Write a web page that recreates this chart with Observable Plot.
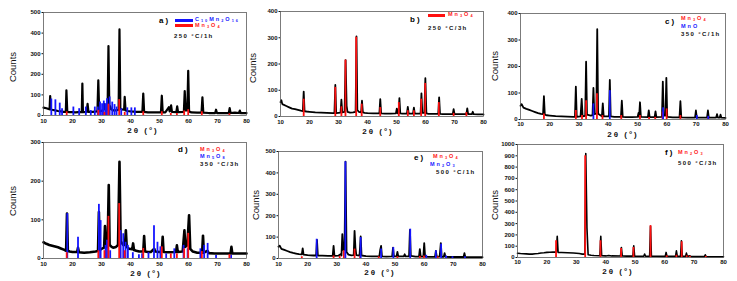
<!DOCTYPE html>
<html><head><meta charset="utf-8">
<script src="https://cdn.jsdelivr.net/npm/d3@7"></script>
<script src="https://cdn.jsdelivr.net/npm/@observablehq/plot@0.6"></script>
<style>
body{margin:0;background:#fff;}
#fig{position:relative;width:737px;height:281px;overflow:hidden;font-family:"Liberation Sans",Arial,sans-serif;background:#fff;}
#fig svg{position:absolute;}
.xrd text{font-weight:bold;}
.t{position:absolute;white-space:nowrap;font-weight:bold;line-height:1;}
.t sub{font-size:70%;vertical-align:-1px;line-height:0;}
.tag{font-size:8px;letter-spacing:2px;color:#000;}
.f{font-size:5.5px;letter-spacing:2px;}
.cond{font-size:6px;letter-spacing:1.4px;color:#111;}
.red{color:#ff1a1a;}
.blue{color:#1a1aff;}
.sw{position:absolute;height:3px;}
.yl{position:absolute;font-size:9.5px;transform:translate(-50%,-50%) rotate(-90deg);white-space:nowrap;color:#111;}
.xl{position:absolute;font-size:8px;font-weight:bold;letter-spacing:2px;transform:translate(-50%,-50%);white-space:nowrap;color:#111;}
</style></head>
<body><div id="fig"></div>
<script>
// ---- tick values ----
const xTicks = [10, 20, 30, 40, 50, 60, 70, 80];
const yTicksA = [0, 100, 200, 300, 400, 500];
const yTicksB = [0, 100, 200, 300, 400];
const yTicksC = [0, 100, 200, 300, 400];
const yTicksD = [0, 100, 200, 300];
const yTicksE = [0, 100, 200, 300, 400, 500];
const yTicksF = [0, 100, 200, 300, 400, 500, 600, 700, 800, 900, 1000];

// ---- measured patterns [2θ, counts] ----
const patternA = [[10,38],[11,35],[12,30],[12.1,30],[12.3,94],[12.5,30],[13,28],[14,25],[15,22],[16,20],[17,18],[17.7,18],[17.9,122],[18.2,18],[19,16],[20,16],[21,15],[22,16],[23.2,16],[23.4,155],[23.6,16],[24.9,18],[25.2,57],[25.5,18],[27,18],[28.6,20],[28.9,171],[29.2,20],[30,22],[30.8,30],[31.0,55],[31.3,30],[32.1,30],[32.4,337],[32.7,35],[33,45],[33.3,30],[34,25],[35,25],[35.9,28],[36.2,418],[36.5,35],[37,30],[37.8,28],[38.0,90],[38.3,25],[39,22],[40,20],[42,18],[44.1,18],[44.4,106],[44.7,18],[46,15],[48,15],[50.5,15],[50.8,96],[51.1,15],[52,15],[53.2,40],[53.5,20],[54,49],[54.3,18],[55.8,16],[56.1,44],[56.4,16],[58.4,18],[58.7,119],[59.0,25],[59.6,25],[59.9,217],[60.2,20],[61,15],[63,14],[64.5,14],[64.8,88],[65.1,14],[67,12],[69.2,12],[69.5,28],[69.8,12],[72,12],[73.9,12],[74.2,36],[74.5,12],[76,14],[77.4,12],[77.7,24],[78,12],[80,12]];
const refA_C10Mn2O16 = [[12.7,80],[14.1,76],[15.6,60],[16.4,33],[20.3,41],[22.3,33],[24.6,41],[26.3,24],[27.7,41],[28.7,41],[29.5,65],[30.2,57],[30.8,70],[31.5,57],[31.9,81],[32.8,90],[33.7,65],[34.5,53],[35.2,41],[36.8,33],[38.9,37],[40.3,37],[41.5,37]];
const refA_Mn3O4 = [[18.0,18],[28.9,25],[31.0,15],[32.4,55],[36.1,77],[38.0,15],[44.4,18],[50.8,18],[53.9,10],[56.0,10],[58.5,22],[59.9,28],[64.6,18],[74.1,8]];

const patternB = [[10,55],[10.3,62],[10.6,48],[11,45],[12,40],[13,35],[14,30],[15,28],[16,25],[17,22],[17.7,21],[18.0,95],[18.3,20],[19,19],[20,18],[22,16],[24,15],[26,14],[28,13],[28.6,13],[28.9,120],[29.2,13],[30,14],[30.7,15],[31.0,64],[31.3,16],[32.1,18],[32.45,215],[32.8,40],[33.1,18],[34,15],[35,16],[35.9,18],[36.2,305],[36.5,25],[37,18],[37.8,16],[38.1,60],[38.4,16],[39,14],[40,13],[42,12],[44.1,12],[44.4,66],[44.7,12],[46,11],[48,11],[49.8,12],[50.1,30],[50.4,12],[50.7,12],[51.0,70],[51.3,12],[52,11],[53.6,11],[53.9,37],[54.2,11],[55.7,11],[56.0,34],[56.3,11],[58.3,11],[58.6,88],[58.9,14],[59.6,14],[59.95,146],[60.3,12],[61,10],[63,10],[64.4,10],[64.7,73],[65.0,10],[66,9],[68,9],[69.4,9],[69.7,28],[70.0,9],[72,9],[74.1,9],[74.4,31],[74.7,9],[76,9],[76.3,18],[76.6,9],[78,8],[80,8]];
const refB_Mn3O4 = [[18.0,66],[28.9,111],[31.0,37],[32.4,215],[36.1,302],[38.0,47],[44.4,34],[50.8,53],[53.9,22],[56.0,22],[58.5,66],[59.9,126],[64.6,53],[69.7,12],[74.1,15]];

const patternC = [[10,52],[10.4,58],[11,45],[12,40],[13,36],[14,32],[15,28],[16,24],[17,21],[17.7,20],[18.0,88],[18.3,18],[19,16],[20,15],[22,13],[24,12],[26,11],[28,10],[28.6,10],[28.9,124],[29.2,10],[30.5,12],[30.9,78],[31.2,12],[32.1,14],[32.4,218],[32.7,18],[34,15],[34.6,16],[34.9,119],[35.2,20],[35.9,22],[36.2,341],[36.5,22],[37.8,12],[38.1,61],[38.4,12],[40.2,12],[40.5,149],[40.8,12],[42,10],[44.3,10],[44.6,71],[44.9,10],[46,9],[48,9],[50.0,10],[50.3,25],[50.5,10],[50.8,65],[51.1,10],[53.5,9],[53.8,34],[54.1,9],[55.8,9],[56.1,31],[56.4,9],[58.3,10],[58.6,143],[58.9,15],[59.5,15],[59.8,157],[60.1,10],[62,8],[64.3,8],[64.6,69],[64.9,8],[67,7],[69.6,7],[69.9,34],[70.2,7],[72,7],[73.7,7],[74.0,34],[74.3,7],[76.8,7],[77.1,20],[77.4,7],[78,7],[78.3,18],[78.6,7],[80,6]];
const refC_Mn3O4 = [[18.0,21],[28.9,34],[31.0,15],[32.4,71],[36.1,97],[38.0,15],[44.4,15],[50.8,15],[53.9,8],[56.0,8],[58.5,28],[59.9,40],[64.6,15],[74.1,8]];
const refC_MnO = [[34.9,59],[40.5,109],[58.7,44],[70.2,15],[74.1,12]];

const patternD = [[10,42],[10.5,40],[11,38],[12,35],[13,33],[14,31],[15,29],[16,26],[17,23],[17.8,20],[18.1,116],[18.4,20],[19,18],[20,17],[21.6,17],[21.9,28],[22.2,16],[24,15],[26,16],[28,18],[28.8,20],[29.1,120],[29.4,22],[30,25],[30.9,28],[31.2,84],[31.5,30],[32.1,30],[32.5,190],[32.8,35],[33.5,30],[34,28],[35,30],[35.7,35],[36.2,250],[36.6,45],[37.0,40],[37.5,35],[38.1,35],[38.4,73],[38.7,30],[39.5,25],[40.6,24],[40.9,39],[41.2,22],[42,20],[43,18],[44.4,18],[44.7,58],[45.0,18],[46,17],[47,17],[48.2,25],[48.5,18],[50,17],[50.8,18],[51.1,56],[51.4,17],[53,16],[55.7,17],[56.0,34],[56.3,17],[58.0,18],[58.6,73],[58.9,30],[59.6,35],[60.2,112],[60.6,25],[61.5,18],[63,15],[64.7,15],[65.0,59],[65.3,15],[66.5,20],[67,14],[69,13],[70,13],[72,13],[74.5,13],[74.8,30],[75.1,13],[77,13],[80,13]];
const refD_Mn3O4 = [[18.0,15],[28.9,20],[31.0,20],[32.4,109],[36.1,142],[38.0,20],[44.4,26],[50.8,30],[53.9,12],[56.0,12],[58.5,25],[59.9,65],[64.6,18],[74.1,10]];
const refD_Mn5O8 = [[18.2,116],[21.9,55],[29.1,140],[29.7,98],[31.4,34],[31.9,47],[33.0,20],[36.6,72],[37.5,64],[38.3,42],[39.1,34],[40.8,15],[42.9,10],[44.0,12],[46.2,15],[48.1,85],[49.3,42],[50.3,30],[52.3,12],[55.1,25],[58.3,34],[59.7,25],[64.1,25],[65.4,34],[66.6,39],[69.5,8],[74.7,8]];

const patternE = [[10,55],[10.4,60],[11,45],[12,40],[13,35],[14,30],[15,26],[16,23],[17,20],[18.0,19],[18.3,47],[18.6,18],[20,16],[22,14],[22.9,14],[23.2,87],[23.5,14],[25,13],[27,12],[28.6,12],[28.9,59],[29.2,12],[30.5,13],[31.3,20],[31.6,14],[31.9,114],[32.2,40],[32.65,40],[33.0,452],[33.35,30],[34,18],[35,15],[35.8,16],[36.1,129],[36.4,50],[36.7,16],[37.8,14],[38.2,103],[38.5,14],[40,11],[42,10],[44.6,10],[44.9,40],[45.2,59],[45.5,10],[47,9],[49.0,10],[49.3,51],[49.6,10],[50.5,10],[50.8,31],[51.1,10],[53.0,10],[53.3,20],[53.6,10],[54.8,10],[55.1,134],[55.4,12],[57,9],[58.2,9],[58.5,44],[58.8,9],[59.7,9],[60.0,72],[60.3,9],[61.5,8],[63.7,8],[64.0,36],[64.3,9],[65.3,9],[65.7,72],[66.0,8],[66.7,8],[67.0,25],[67.3,8],[69,7],[73.5,7],[73.8,25],[74.1,7],[76,6],[80,6]];
const refE_Mn3O4 = [[18.0,8],[28.9,12],[31.0,10],[32.4,36],[36.1,44],[38.0,10],[44.4,8],[50.8,8],[58.5,10],[59.9,12],[64.6,8]];
const refE_Mn2O3 = [[23.1,90],[32.95,452],[38.2,98],[45.2,44],[49.4,51],[55.2,137],[60.7,15],[64.0,36],[65.8,67],[67.5,12],[69.7,8],[74.0,8]];

const patternF = [[10,38],[11,35],[12,33],[13,32],[14,30],[15,30],[16,33],[17,36],[18,40],[19,42],[20,45],[21,47],[22,48],[23.2,48],[23.5,187],[23.8,45],[25,44],[27,42],[29,40],[31,35],[32,30],[32.9,30],[33.2,920],[33.6,260],[34.0,25],[35,20],[36,18],[38.0,16],[38.3,187],[38.6,16],[40,14],[41,18],[42,14],[45.0,13],[45.3,89],[45.6,13],[47,12],[49.2,12],[49.5,104],[49.8,12],[51,11],[52.9,11],[53.2,30],[53.5,11],[54.9,11],[55.2,276],[55.5,12],[57,11],[60.2,10],[60.5,45],[60.8,10],[63.7,10],[64.0,59],[64.3,10],[65.4,10],[65.7,148],[66.0,10],[67.1,10],[67.4,39],[67.7,10],[68.5,15],[69,8],[73.5,8],[73.8,24],[74.1,8],[76,6],[80,6]];
const refF_Mn2O3 = [[23.1,148],[33.0,900],[38.2,148],[45.2,80],[49.4,89],[55.2,282],[60.7,15],[64.0,20],[65.8,139],[67.5,15],[68.6,10],[74.0,10]];

const RED = "#ff1010", BLUE = "#1414ff";

const panels = [
  {left:0,   top:0,   w:250, h:135, ml:43, mr:4,  mt:12, mb:20, ymax:500,  yTicks:yTicksA, ysp:2,   sw:2.2, tp:3, pattern:patternA, refs:[[refA_C10Mn2O16,BLUE],[refA_Mn3O4,RED]]},
  {left:245, top:0,   w:245, h:135, ml:35, mr:7,  mt:11, mb:19, ymax:400,  yTicks:yTicksB, ysp:2,   sw:1.8, tp:3, pattern:patternB, refs:[[refB_Mn3O4,RED]]},
  {left:490, top:0,   w:247, h:135, ml:30, mr:12, mt:13, mb:16, ymax:400,  yTicks:yTicksC, ysp:1.6, sw:1.8, tp:2, pattern:patternC, refs:[[refC_Mn3O4,RED],[refC_MnO,BLUE]]},
  {left:0,   top:135, w:250, h:146, ml:43, mr:4,  mt:7,  mb:23, ymax:300,  yTicks:yTicksD, ysp:2.4, sw:2.6, tp:3, pattern:patternD, refs:[[refD_Mn5O8,BLUE],[refD_Mn3O4,RED]]},
  {left:245, top:135, w:245, h:146, ml:33, mr:8,  mt:16, mb:23, ymax:500,  yTicks:yTicksE, ysp:1.8, sw:1.8, tp:3, pattern:patternE, refs:[[refE_Mn3O4,RED],[refE_Mn2O3,BLUE]]},
  {left:490, top:135, w:247, h:146, ml:27, mr:14, mt:9,  mb:24, ymax:1000, yTicks:yTicksF, ysp:1,   sw:1.6, tp:2, pattern:patternF, refs:[[refF_Mn2O3,RED]]}
];

const fig = document.getElementById("fig");
for (const p of panels) {
  const svg = Plot.plot({
    width: p.w, height: p.h,
    marginLeft: p.ml, marginRight: p.mr, marginTop: p.mt, marginBottom: p.mb,
    className: "xrd",
    style: {fontFamily: "Liberation Sans, Arial, sans-serif", fontSize: "6px", background: "transparent", overflow: "visible", color: "#111"},
    x: {domain: [10, 80]},
    y: {domain: [0, p.ymax]},
    marks: [
      Plot.line(p.pattern, {x: d => d[0], y: d => d[1], stroke: "#000", strokeWidth: p.sw, strokeLinejoin: "round"}),
      ...p.refs.map(([data, color]) => Plot.ruleX(data, {x: d => d[0], y1: d => 0, y2: d => d[1], stroke: color, strokeWidth: 1.8})),
      Plot.axisX({ticks: xTicks, tickSize: 0, tickPadding: p.tp, label: null, tickFormat: d => String(d), style: {letterSpacing: "1.5px"}}),
      Plot.axisY({ticks: p.yTicks, tickSize: 1.5, tickPadding: 1.5, label: null, tickFormat: d => String(d), style: {letterSpacing: p.ysp + "px"}}),
      Plot.frame({stroke: "#444", strokeWidth: 0.7})
    ]
  });
  svg.style.left = p.left + "px";
  svg.style.top = p.top + "px";
  fig.appendChild(svg);
}

// ---- overlays: axis titles, panel tags, legends ----
function add(html, cls, left, top) {
  const d = document.createElement("div");
  d.className = cls;
  d.innerHTML = html;
  d.style.left = left + "px";
  d.style.top = top + "px";
  fig.appendChild(d);
  return d;
}
function swatch(color, left, top, width) {
  const d = document.createElement("div");
  d.className = "sw";
  d.style.background = color;
  d.style.left = left + "px";
  d.style.top = top + "px";
  d.style.width = width + "px";
  fig.appendChild(d);
}
// y titles
[[12,67],[252,68],[494,66],[12,201],[255,205],[494,205]].forEach(([x,y]) => add("Counts", "yl", x, y));
// x titles
[[143,130],[378,130.5],[623,134],[146,272.5],[380,271.5],[618,270.5]].forEach(([x,y]) => add("2θ (°)", "xl", x, y));

// a
add("a)", "t tag", 159, 17);
swatch(BLUE, 175, 18.5, 18); swatch(RED, 175, 23.5, 18);
add("C<sub>10</sub>Mn<sub>2</sub>O<sub>16</sub>", "t f blue", 195, 16.5);
add("Mn<sub>3</sub>O<sub>4</sub>", "t f red", 195, 22.5);
add("250 °C/1h", "t cond", 174, 32.5);
// b
add("b)", "t tag", 410, 15.5);
swatch(RED, 428, 13.5, 17);
add("Mn<sub>3</sub>O<sub>4</sub>", "t f red", 448, 12);
add("250 °C/3h", "t cond", 428, 25);
// c
add("c)", "t tag", 665, 18);
add("Mn<sub>3</sub>O<sub>4</sub>", "t f red", 681, 16);
add("MnO", "t f blue", 681, 24);
add("350 °C/1h", "t cond", 681, 31);
// d
add("d)", "t tag", 178, 146);
add("Mn<sub>3</sub>O<sub>4</sub>", "t f red", 200, 147);
add("Mn<sub>5</sub>O<sub>8</sub>", "t f blue", 200, 154);
add("350 °C/3h", "t cond", 200, 161);
// e
add("e)", "t tag", 414, 154);
add("Mn<sub>3</sub>O<sub>4</sub>", "t f red", 433, 154);
add("Mn<sub>2</sub>O<sub>3</sub>", "t f blue", 430, 161.5);
add("500 °C/1h", "t cond", 436, 169);
// f
add("f)", "t tag", 665, 149);
add("Mn<sub>2</sub>O<sub>3</sub>", "t f red", 678, 150);
add("500 °C/3h", "t cond", 678, 160);
</script></body></html>
